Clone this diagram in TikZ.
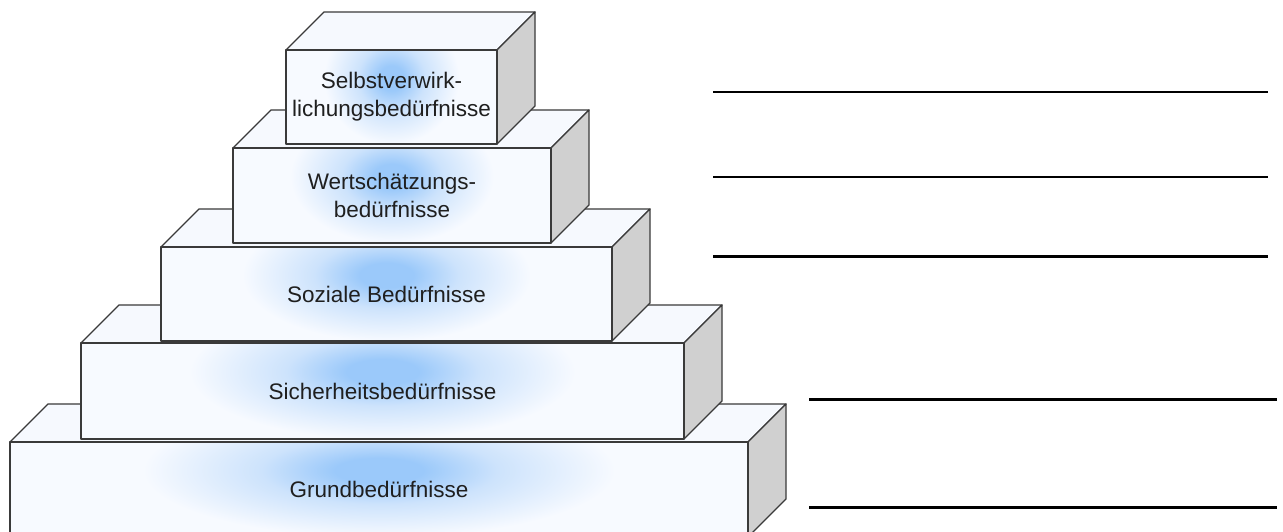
\documentclass[tikz,border=0pt]{standalone}
\usepackage{fontspec}
\setmainfont{Liberation Sans}
\definecolor{glowc}{RGB}{155,201,250}
\definecolor{glowm}{RGB}{205,227,252}
\definecolor{glowo}{RGB}{247,250,255}
\definecolor{topc}{RGB}{246,249,254}
\definecolor{sidec}{RGB}{208,208,208}
\definecolor{edgec}{RGB}{58,58,58}
\pgfdeclareradialshading{glowsh}{\pgfpointorigin}{color(0bp)=(glowc); color(3bp)=(glowc); color(8bp)=(glowm); color(16bp)=(glowo); color(50bp)=(glowo)}
\tikzset{
  edge/.style={draw=edgec, line width=1.3pt, line join=round},
  topface/.style={edge, fill=topc},
  sideface/.style={edge, fill=sidec},
  lbl/.style={font=\fontsize{22.5}{28}\selectfont, text=black!88, align=center, inner sep=0pt},
  blank/.style={draw=black, line width=#1},
}
\newcommand\stufe[6]{%
  \filldraw[topface] (#1,#3) -- (#1+38,#3-38) -- (#2+38,#3-38) -- (#2,#3) -- cycle;
  \filldraw[sideface] (#2,#3) -- (#2+38,#3-38) -- (#2+38,#4-38) -- (#2,#4) -- cycle;
  \begin{scope}
    \clip (#1,#3) rectangle (#2,#4);
    \shade[shading=glowsh] (#1,{#3-(#4-#3)*0.8}) rectangle (#2,{#4+(#4-#3)*0.4});
  \end{scope}
  \draw[edge] (#1,#3) rectangle (#2,#4);
  \node[lbl] (#5) at ({(#1+#2)/2},{(#3+#4)/2}) {#6};
}
\begin{document}
\begin{tikzpicture}[x=1pt,y=-1pt]
\useasboundingbox (0,0) rectangle (1283,532);
\clip (0,0) rectangle (1283,532);
\fill[white] (0,0) rectangle (1283,532);
\stufe{10}{748}{442}{537}{grund}{Grundbedürfnisse}
\stufe{81}{684}{343}{439}{sicher}{Sicherheitsbedürfnisse}
\stufe{161}{612}{247}{341}{sozial}{Soziale Bedürfnisse}
\stufe{233}{551}{148}{243}{wert}{Wertschätzungs-\\bedürfnisse}
\stufe{286}{497}{50}{144}{selbst}{Selbstverwirk-\\lichungsbedürfnisse}
\draw[blank=2pt] (713,92) -- (1268,92);
\draw[blank=2pt] (713,177) -- (1268,177);
\draw[blank=3pt] (713,256) -- (1268,256);
\draw[blank=3pt] (809,399) -- (1277,399);
\draw[blank=3pt] (809,507) -- (1277,507);
\end{tikzpicture}
\end{document}
